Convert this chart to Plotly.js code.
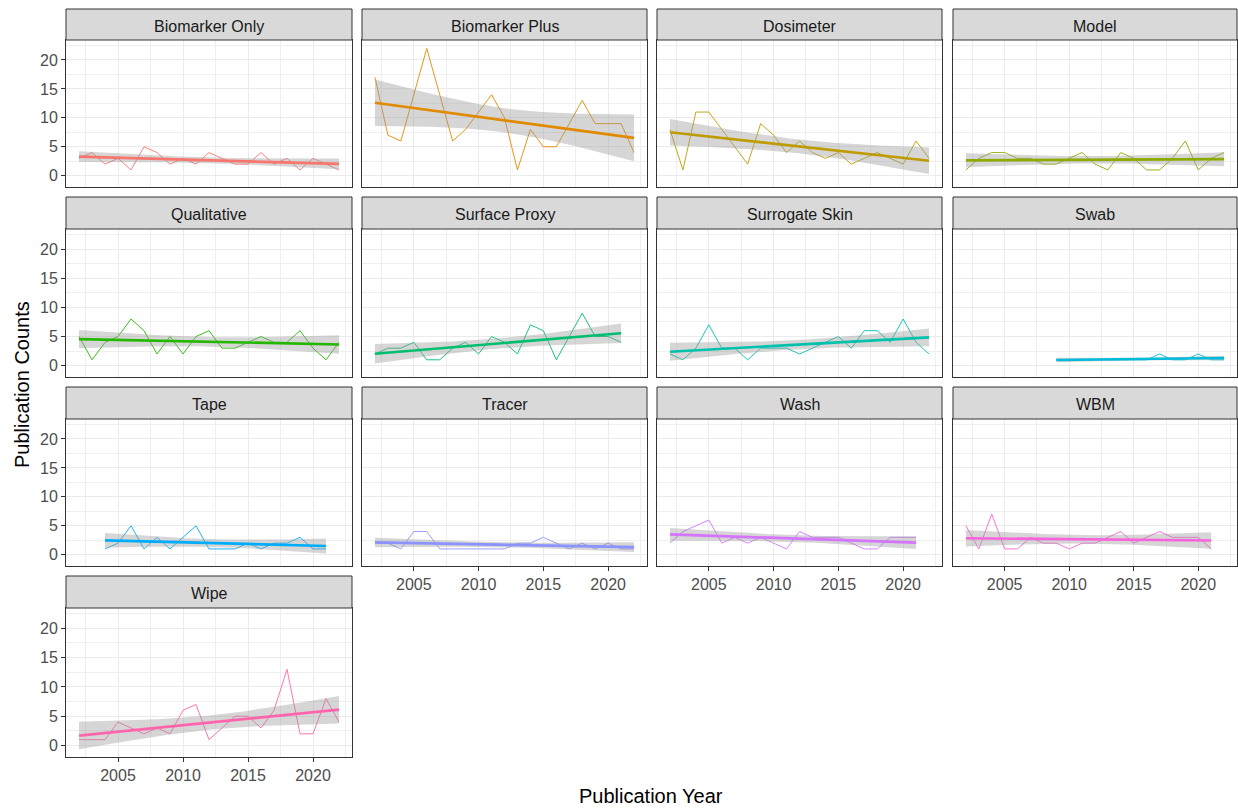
<!DOCTYPE html>
<html><head><meta charset="utf-8">
<script src="https://cdn.plot.ly/plotly-3.0.1.min.js"></script>
<style>html,body{margin:0;padding:0;background:#fff}#chart{width:1238px;height:810px}</style>
</head><body><div id="chart"></div><script>
// Publication counts per year for each exposure-assessment method
const categories = ["Biomarker Only", "Biomarker Plus", "Dosimeter", "Model", "Qualitative",
  "Surface Proxy", "Surrogate Skin", "Swab", "Tape", "Tracer", "Wash", "WBM", "Wipe"];
const hueColors = ["#F8766D", "#E18A00", "#BE9C00", "#8CAB00", "#24B700", "#00BE70",
  "#00C1AB", "#00BBDA", "#00ACFC", "#8B93FF", "#D575FE", "#F962DD", "#FF65AC"];

const years2002to2022 = [2002, 2003, 2004, 2005, 2006, 2007, 2008, 2009, 2010, 2011, 2012,
  2013, 2014, 2015, 2016, 2017, 2018, 2019, 2020, 2021, 2022];
const years2002to2021 = [2002, 2003, 2004, 2005, 2006, 2007, 2008, 2009, 2010, 2011, 2012,
  2013, 2014, 2015, 2016, 2017, 2018, 2019, 2020, 2021];
const years2004to2021 = [2004, 2005, 2006, 2007, 2008, 2009, 2010, 2011, 2012,
  2013, 2014, 2015, 2016, 2017, 2018, 2019, 2020, 2021];
const years2009to2022 = [2009, 2010, 2011, 2012, 2013, 2014, 2015, 2016, 2017, 2018, 2019,
  2020, 2021, 2022];

const biomarkerOnly = [3, 4, 2, 3, 1, 5, 4, 2, 3, 2, 4, 3, 2, 2, 4, 2, 3, 1, 3, 2, 1];
const biomarkerPlus = [17, 7, 6, 14, 22, 14, 6, 8, 11, 14, 10, 1, 8, 5, 5, 9, 13, 9, 9, 9, 4];
const dosimeter = [8, 1, 11, 11, 8, 5, 2, 9, 7, 4, 6, 4, 3, 4, 2, 3, 4, 3, 2, 6, 3];
const model = [1, 3, 4, 4, 3, 3, 2, 2, 3, 4, 2, 1, 4, 3, 1, 1, 3, 6, 1, 3, 4];
const qualitative = [5, 1, 4, 5, 8, 6, 2, 5, 2, 5, 6, 3, 3, 4, 5, 4, 4, 6, 3, 1, 4];
const surfaceProxy = [2, 3, 3, 4, 1, 1, 3, 4, 2, 5, 4, 2, 7, 6, 1, 5, 9, 5, 5, 4];
const surrogateSkin = [2, 1, 3, 7, 3, 3, 1, 3, 3, 3, 2, 3, 4, 5, 3, 6, 6, 4, 8, 4, 2];
const swab = [1, 1, 1, 1, 1, 1, 1, 1, 2, 1, 1, 2, 1, 1];
const tape = [1, 2, 5, 1, 3, 1, 3, 5, 1, 1, 1, 2, 1, 2, 2, 3, 1, 1];
const tracer = [2, 2, 1, 4, 4, 1, 1, 1, 1, 1, 1, 2, 2, 3, 2, 1, 2, 1, 2, 1, 1];
const wash = [2, 4, 5, 6, 2, 3, 2, 3, 2, 1, 4, 3, 3, 3, 2, 1, 1, 3, 3, 3];
const wbm = [5, 1, 7, 1, 1, 3, 2, 2, 1, 2, 2, 3, 4, 2, 3, 4, 3, 3, 3, 1];
const wipe = [1, 1, 1, 4, 3, 2, 3, 2, 6, 7, 1, 3, 5, 5, 3, 6, 13, 2, 2, 8, 4];

const seriesYears = [years2002to2022, years2002to2022, years2002to2022, years2002to2022,
  years2002to2022, years2002to2021, years2002to2022, years2009to2022, years2004to2021,
  years2002to2022, years2002to2021, years2002to2021, years2002to2022];
const seriesCounts = [biomarkerOnly, biomarkerPlus, dosimeter, model, qualitative,
  surfaceProxy, surrogateSkin, swab, tape, tracer, wash, wbm, wipe];

const xTicks = [2005, 2010, 2015, 2020];
const xMinor = [2002.5, 2007.5, 2012.5, 2017.5, 2022.5];
const yTicks = [0, 5, 10, 15, 20];
const yMinor = [2.5, 7.5, 12.5, 17.5, 22.5];

// 97.5% quantile of Student's t (Cornish-Fisher expansion)
function tQuantile975(df) {
  const z = 1.959963985;
  const z3 = z ** 3, z5 = z ** 5, z7 = z ** 7, z9 = z ** 9;
  const g1 = (z3 + z) / 4;
  const g2 = (5 * z5 + 16 * z3 + 3 * z) / 96;
  const g3 = (3 * z7 + 19 * z5 + 17 * z3 - 15 * z) / 384;
  const g4 = (79 * z9 + 776 * z7 + 1482 * z5 - 1920 * z3 - 945 * z) / 92160;
  return z + g1 / df + g2 / df ** 2 + g3 / df ** 3 + g4 / df ** 4;
}

// Ordinary least squares line with a 95% confidence band, 80 evaluation points
function linearSmooth(xs, ys) {
  const n = xs.length;
  const xbar = xs.reduce((a, b) => a + b, 0) / n;
  const ybar = ys.reduce((a, b) => a + b, 0) / n;
  let sxx = 0, sxy = 0;
  for (let i = 0; i < n; i++) { sxx += (xs[i] - xbar) ** 2; sxy += (xs[i] - xbar) * (ys[i] - ybar); }
  const slope = sxy / sxx, intercept = ybar - slope * xbar;
  let rss = 0;
  for (let i = 0; i < n; i++) rss += (ys[i] - intercept - slope * xs[i]) ** 2;
  const s = Math.sqrt(rss / (n - 2));
  const t = tQuantile975(n - 2);
  const x0 = Math.min(...xs), x1 = Math.max(...xs);
  const gx = [], fit = [], lo = [], hi = [];
  for (let k = 0; k < 80; k++) {
    const x = x0 + (x1 - x0) * k / 79;
    const f = intercept + slope * x;
    const se = s * Math.sqrt(1 / n + (x - xbar) ** 2 / sxx);
    gx.push(x); fit.push(f); lo.push(f - t * se); hi.push(f + t * se);
  }
  return { gx, fit, lo, hi };
}

const W = 1238, H = 810;
const colPx = [[66, 352], [362, 647], [657, 942], [953, 1237]];
const rowPx = [[40, 187], [229, 377], [419, 566], [608, 757]];
const stripPx = [[9, 40], [197, 229], [387, 419], [576, 608]];

const FONT = "Liberation Sans, Arial, Helvetica, sans-serif";
const traces = [];
const layout = {
  width: W, height: H,
  margin: { l: 0, r: 0, t: 0, b: 0 },
  paper_bgcolor: "#FFFFFF", plot_bgcolor: "#FFFFFF",
  showlegend: false,
  font: { family: FONT },
  shapes: [], annotations: []
};

categories.forEach((name, i) => {
  const row = Math.floor(i / 4), col = i % 4;
  const sfx = i === 0 ? "" : String(i + 1);
  const xa = "x" + sfx, ya = "y" + sfx;
  const xs = seriesYears[i], ys = seriesCounts[i];
  const sm = linearSmooth(xs, ys);

  traces.push({ type: "scatter", mode: "lines", x: xs, y: ys, xaxis: xa, yaxis: ya,
    line: { color: hueColors[i], width: 0.9 }, hoverinfo: "skip" });
  traces.push({ type: "scatter", mode: "lines", xaxis: xa, yaxis: ya,
    x: sm.gx.concat(sm.gx.slice().reverse()),
    y: sm.hi.concat(sm.lo.slice().reverse()),
    fill: "toself", fillcolor: "rgba(153,153,153,0.4)", line: { width: 0 }, hoverinfo: "skip" });
  traces.push({ type: "scatter", mode: "lines", x: sm.gx, y: sm.fit, xaxis: xa, yaxis: ya,
    line: { color: hueColors[i], width: 2.7 }, hoverinfo: "skip" });

  const showX = (i >= 9);
  const showY = (col === 0);
  const [cx0, cx1] = colPx[col];
  const [ry0, ry1] = rowPx[row];
  const [sy0, sy1] = stripPx[row];

  layout["xaxis" + sfx] = {
    domain: [cx0 / W, cx1 / W], anchor: ya, range: [2001, 2023],
    tickmode: "array", tickvals: xTicks, showticklabels: showX,
    ticks: showX ? "outside" : "", ticklen: 4, tickwidth: 1, tickcolor: "#333333",
    tickfont: { size: 16, color: "#4D4D4D", family: FONT },
    showgrid: true, gridcolor: "#EBEBEB", gridwidth: 1,
    minor: { tickmode: "array", tickvals: xMinor, showgrid: true, gridcolor: "#EFEFEF", gridwidth: 1, ticks: "" },
    showline: true, mirror: true, linecolor: "#333333", linewidth: 1,
    zeroline: false, fixedrange: true
  };
  layout["yaxis" + sfx] = {
    domain: [1 - ry1 / H, 1 - ry0 / H], anchor: xa, range: [-1.95, 23.45],
    tickmode: "array", tickvals: yTicks, showticklabels: showY,
    ticks: showY ? "outside" : "", ticklen: 4, tickwidth: 1, tickcolor: "#333333",
    tickfont: { size: 16, color: "#4D4D4D", family: FONT },
    showgrid: true, gridcolor: "#EBEBEB", gridwidth: 1,
    minor: { tickmode: "array", tickvals: yMinor, showgrid: true, gridcolor: "#EFEFEF", gridwidth: 1, ticks: "" },
    showline: true, mirror: true, linecolor: "#333333", linewidth: 1,
    zeroline: false, fixedrange: true
  };

  // facet strip
  layout.shapes.push({ type: "rect", xref: "paper", yref: "paper",
    x0: cx0 / W, x1: cx1 / W, y0: 1 - sy1 / H, y1: 1 - sy0 / H,
    fillcolor: "#D9D9D9", line: { color: "#333333", width: 1 } });
  layout.annotations.push({ xref: "paper", yref: "paper",
    x: (cx0 + cx1) / 2 / W, y: 1 - ((sy0 + sy1) / 2 + 1.5) / H,
    text: name, showarrow: false, xanchor: "center", yanchor: "middle",
    font: { size: 16, color: "#1A1A1A", family: FONT } });
});

layout.annotations.push({ xref: "paper", yref: "paper", x: 651 / W, y: 1 - 796 / H,
  text: "Publication Year", showarrow: false, xanchor: "center", yanchor: "middle",
  font: { size: 20, color: "#000000", family: FONT } });
layout.annotations.push({ xref: "paper", yref: "paper", x: 22 / W, y: 1 - 385 / H,
  text: "Publication Counts", textangle: -90, showarrow: false, xanchor: "center", yanchor: "middle",
  font: { size: 20, color: "#000000", family: FONT } });

Plotly.newPlot("chart", traces, layout, { displayModeBar: false, staticPlot: true });
</script></body></html>
